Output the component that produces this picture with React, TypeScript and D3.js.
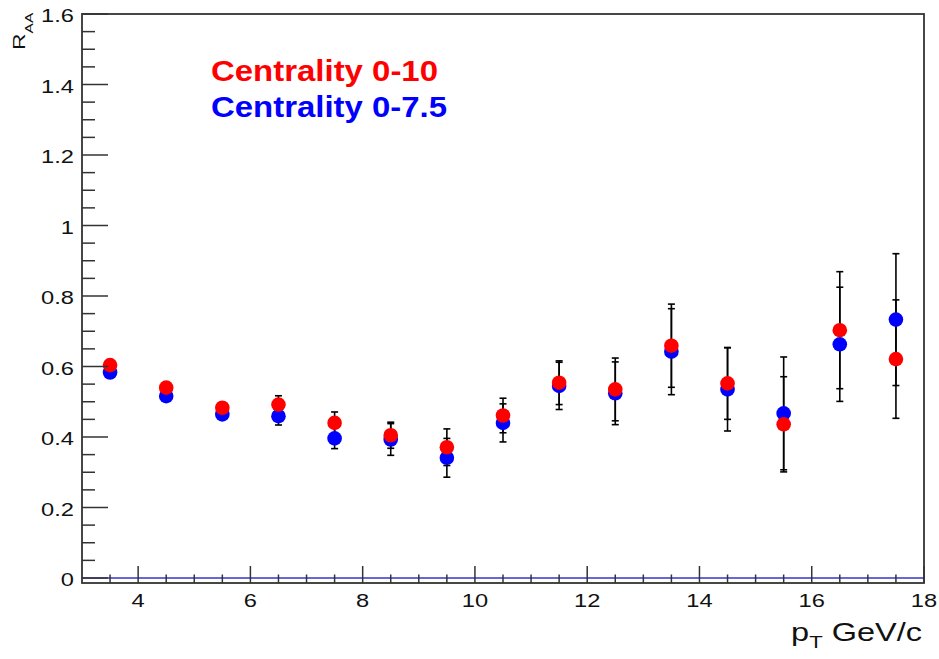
import React from 'react';
import * as d3 from 'd3';

// pT bin centres (GeV/c)
const PT = [3.5, 4.5, 5.5, 6.5, 7.5, 8.5, 9.5, 10.5, 11.5, 12.5, 13.5, 14.5, 15.5, 16.5, 17.5];

// Centrality 0-10 (red)
const RAA_0_10 = [0.604, 0.54, 0.483, 0.492, 0.44, 0.405, 0.371, 0.461, 0.554, 0.535, 0.659, 0.552, 0.436, 0.703, 0.621];
const ERR_0_10 = [0.01, 0.01, 0.01, 0.025, 0.031, 0.037, 0.052, 0.049, 0.062, 0.089, 0.118, 0.102, 0.135, 0.166, 0.168];

// Centrality 0-7.5 (blue)
const RAA_0_75 = [0.583, 0.516, 0.464, 0.459, 0.396, 0.393, 0.341, 0.44, 0.545, 0.524, 0.642, 0.535, 0.467, 0.663, 0.733];
const ERR_0_75 = [0.01, 0.01, 0.01, 0.025, 0.029, 0.045, 0.055, 0.054, 0.067, 0.089, 0.122, 0.118, 0.16, 0.162, 0.187];

const X_TICKS = [4, 6, 8, 10, 12, 14, 16, 18];
const Y_TICKS = [0, 0.2, 0.4, 0.6, 0.8, 1, 1.2, 1.4, 1.6];

const W = 939;
const H = 659;
const FONT = '"Liberation Sans", Arial, Helvetica, sans-serif';
const SX = 1.28; // text in the original is stretched horizontally

const x = d3.scaleLinear().domain([3, 18]).range([82, 924]);
const y = d3.scaleLinear().domain([-0.0142, 1.6]).range([583, 14]);

const series = [
  { vals: RAA_0_75, errs: ERR_0_75, color: '#0000ff' },
  { vals: RAA_0_10, errs: ERR_0_10, color: '#ff0000' },
];

const App: React.FC = () => {
  const xMinor = d3.range(3.5, 18, 0.5).filter((v) => v % 2 !== 0);
  const yMinor = d3.range(0, 1.6, 0.05).filter((v) => Math.abs(v / 0.2 - Math.round(v / 0.2)) > 1e-6);
  const [x0, x1] = x.range();
  const [yb, yt] = y.range();

  return (
    <svg
      width={W}
      height={H}
      style={{ position: 'absolute', left: 0, top: 0, background: '#fff' }}
      fontFamily={FONT}
    >
      <rect x={0} y={0} width={W} height={H} fill="#fff" />

      {/* zero line */}
      <line x1={x0} x2={x1} y1={y(0)} y2={y(0)} stroke="#3535c8" strokeWidth={1.3} />

      {/* error bars */}
      {series.map((s, si) =>
        PT.map((pt, i) => {
          const cx = x(pt);
          const lo = y(s.vals[i] - s.errs[i]);
          const hi = y(s.vals[i] + s.errs[i]);
          return (
            <g key={`e${si}-${i}`} stroke="#000" strokeWidth={1.6}>
              <line x1={cx} x2={cx} y1={lo} y2={hi} />
              <line x1={cx - 3.5} x2={cx + 3.5} y1={lo} y2={lo} />
              <line x1={cx - 3.5} x2={cx + 3.5} y1={hi} y2={hi} />
            </g>
          );
        })
      )}

      {/* markers */}
      {series.map((s, si) =>
        PT.map((pt, i) => (
          <circle key={`m${si}-${i}`} cx={x(pt)} cy={y(s.vals[i])} r={7.3} fill={s.color} />
        ))
      )}

      {/* frame */}
      <rect x={x0} y={yt} width={x1 - x0} height={yb - yt} fill="none" stroke="#333" strokeWidth={1.8} />

      {/* x ticks */}
      <g stroke="#333" strokeWidth={1.5}>
        {X_TICKS.map((v) => (
          <line key={`xt${v}`} x1={x(v)} x2={x(v)} y1={yb} y2={yb - 17} />
        ))}
        {xMinor.map((v) => (
          <line key={`xm${v}`} x1={x(v)} x2={x(v)} y1={yb} y2={yb - 8.5} />
        ))}
        {Y_TICKS.map((v) => (
          <line key={`yt${v}`} x1={x0} x2={x0 + 26} y1={y(v)} y2={y(v)} />
        ))}
        {yMinor.map((v) => (
          <line key={`ym${v.toFixed(2)}`} x1={x0} x2={x0 + 13} y1={y(v)} y2={y(v)} />
        ))}
      </g>

      {/* tick labels */}
      <g fill="#111" fontSize={18.5}>
        {X_TICKS.map((v) => (
          <text key={`xl${v}`} transform={`translate(${x(v)},607) scale(${SX},1)`} textAnchor="middle">
            {v}
          </text>
        ))}
        {Y_TICKS.map((v) => (
          <text
            key={`yl${v}`}
            transform={`translate(74,${y(v) + 1.5}) scale(${SX},1)`}
            textAnchor="end"
            dy="0.36em"
          >
            {d3.format('~g')(v)}
          </text>
        ))}
      </g>

      {/* axis titles */}
      <text transform={`translate(25,50) rotate(-90) scale(1.35,1)`} fontSize={17} fill="#111">
        R
        <tspan dy={8} fontSize={11.5}>
          AA
        </tspan>
      </text>
      <text transform={`translate(922,641) scale(1.3,1)`} textAnchor="end" fontSize={25} fill="#111">
        p
        <tspan dy={7} fontSize={17}>
          T
        </tspan>
        <tspan dy={-7}> GeV/c</tspan>
      </text>

      {/* legend */}
      <text x={211} y={81} fontSize={29} fontWeight="bold" fill="#ff0000" textLength={227} lengthAdjust="spacingAndGlyphs">
        Centrality 0-10
      </text>
      <text x={211} y={117} fontSize={29} fontWeight="bold" fill="#0000ff" textLength={236} lengthAdjust="spacingAndGlyphs">
        Centrality 0-7.5
      </text>
    </svg>
  );
};

export default App;
